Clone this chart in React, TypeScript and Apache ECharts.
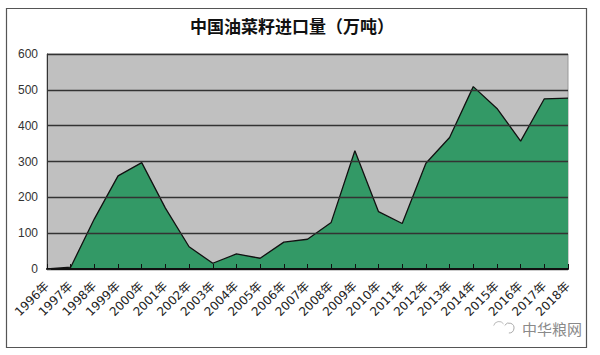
import React, { useEffect, useRef } from "react";
import * as echarts from "echarts";

const years = ["1996年","1997年","1998年","1999年","2000年","2001年","2002年","2003年","2004年","2005年","2006年","2007年","2008年","2009年","2010年","2011年","2012年","2013年","2014年","2015年","2016年","2017年","2018年"];
const imports = [0,5,140,260,297,170,62,16,42,30,75,83,130,330,160,127,295,367,509,448,357,475,477];
const titleText = "中国油菜籽进口量（万吨）";
const watermark = "中华粮网";

export default function App() {
  const ref = useRef<HTMLDivElement>(null);
  useEffect(() => {
    document.body.style.margin = "0";
    const chart = echarts.init(ref.current!, null, { renderer: "svg" });
    chart.setOption({
      animation: false,
      backgroundColor: "#fff",
      title: {
        text: titleText, left: 190, top: 17, padding: 0,
        textStyle: { fontFamily: "'Noto Sans CJK SC'", fontSize: 17, fontWeight: "bold", color: "#111" },
      },
      grid: { left: 47, right: 32, top: 54, bottom: 86, show: true, backgroundColor: "#C0C0C0", borderColor: "#999", borderWidth: 1 },
      xAxis: {
        type: "category", data: years, boundaryGap: false, z: 5,
        axisLine: { lineStyle: { color: "#111", width: 2 } },
        axisTick: { inside: true, length: 5, lineStyle: { color: "#111" }, alignWithLabel: true },
        axisLabel: { rotate: 45, interval: 0, margin: 15, fontSize: 12, color: "#222", fontFamily: "'DejaVu Sans','Noto Sans CJK SC'" },
        splitLine: { show: false },
      },
      yAxis: {
        type: "value", min: 0, max: 600, interval: 100, z: 5,
        axisLine: { show: true, lineStyle: { color: "#333", width: 1 } },
        axisTick: { show: true, inside: true, length: 4, lineStyle: { color: "#333" } },
        axisLabel: { margin: 9, fontSize: 12, color: "#333", fontFamily: "'Liberation Sans'" },
        splitLine: { show: true, lineStyle: { color: "#333", width: 1.3 } },
      },
      series: [{
        type: "line", data: imports, symbol: "none", smooth: false,
        lineStyle: { color: "#111", width: 1.3 },
        areaStyle: { color: "#339966", opacity: 1 },
      }],
      graphic: [
        { type: "rect", silent: true, shape: { x: 6.5, y: 8.5, width: 580, height: 339 }, style: { fill: "none", stroke: "#555", lineWidth: 1.2 } },
        { type: "text", silent: true, x: 522, y: 321, style: { text: watermark, fontFamily: "'Noto Sans CJK SC'", fontSize: 15, fill: "#8a8a8a" } },
        { type: "arc", silent: true, shape: { cx: 509, cy: 328, r: 5, startAngle: -2.6, endAngle: 1.6 }, style: { fill: "none", stroke: "#aaa", lineWidth: 1 } },
        { type: "arc", silent: true, shape: { cx: 499, cy: 327, r: 5.5, startAngle: -0.6, endAngle: 3.4, clockwise: false }, style: { fill: "none", stroke: "#bbb", lineWidth: 1 } },
      ],
    });
    return () => chart.dispose();
  }, []);
  return <div ref={ref} style={{ width: 600, height: 355 }} />;
}
